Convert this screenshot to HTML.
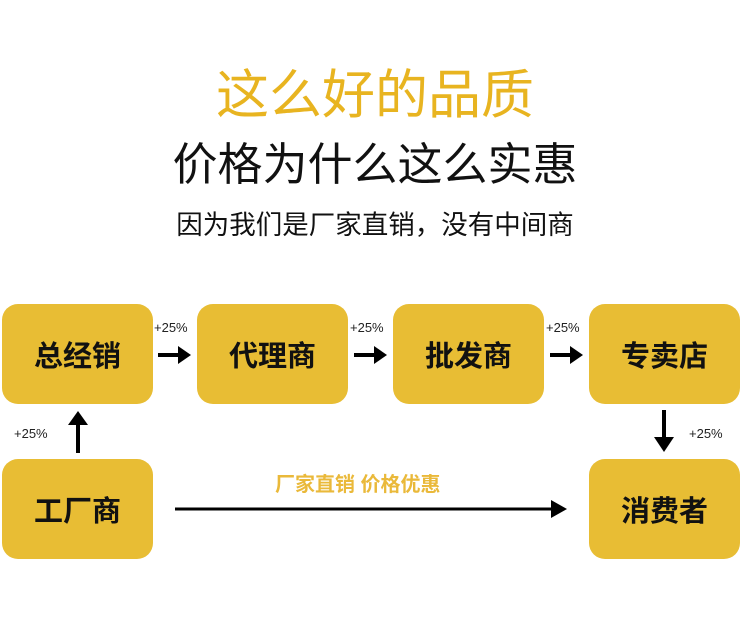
<!DOCTYPE html>
<html><head><meta charset="utf-8"><style>
body{margin:0;width:750px;height:623px;background:#fff;position:relative;overflow:hidden;font-family:"Liberation Sans","Noto Sans CJK SC",sans-serif}
.t{position:absolute;left:0;width:750px;text-align:center;white-space:nowrap}
.b{position:absolute;width:151px;height:100px;background:#e8bd34;border-radius:16px;display:flex;align-items:center;justify-content:center;font-size:29px;font-weight:bold;color:#111}
.p{position:absolute;font-size:13px;color:#222;font-family:"Liberation Sans",sans-serif}
</style></head><body>
<div class="t" style="top:64px;font-size:53px;line-height:64px;color:#e8b420">这么好的品质</div>
<div class="t" style="top:137px;font-size:45px;line-height:56px;color:#111">价格为什么这么实惠</div>
<div class="t" style="top:209px;font-size:26.5px;line-height:32px;color:#111">因为我们是厂家直销，没有中间商</div>

<div class="b" style="left:2px;top:304px">总经销</div>
<div class="b" style="left:197px;top:304px">代理商</div>
<div class="b" style="left:393px;top:304px">批发商</div>
<div class="b" style="left:589px;top:304px">专卖店</div>
<div class="b" style="left:2px;top:459px">工厂商</div>
<div class="b" style="left:589px;top:459px">消费者</div>

<div class="p" style="left:154px;top:320px">+25%</div>
<div class="p" style="left:350px;top:320px">+25%</div>
<div class="p" style="left:546px;top:320px">+25%</div>
<div class="p" style="left:14px;top:426px">+25%</div>
<div class="p" style="left:689px;top:426px">+25%</div>

<div class="t" style="top:472px;left:275px;width:auto;font-size:20px;font-weight:bold;color:#eab93a;line-height:26px">厂家直销 价格优惠</div>

<svg width="750" height="623" style="position:absolute;left:0;top:0">
<g fill="#000" stroke="#000">
<line x1="158" y1="355" x2="180" y2="355" stroke-width="4"/><polygon points="178,346 191,355 178,364" stroke="none"/>
<line x1="354" y1="355" x2="376" y2="355" stroke-width="4"/><polygon points="374,346 387,355 374,364" stroke="none"/>
<line x1="550" y1="355" x2="572" y2="355" stroke-width="4"/><polygon points="570,346 583,355 570,364" stroke="none"/>
<line x1="78" y1="453" x2="78" y2="422" stroke-width="4"/><polygon points="68,425 78,411 88,425" stroke="none"/>
<line x1="664" y1="410" x2="664" y2="440" stroke-width="4"/><polygon points="654,437 664,452 674,437" stroke="none"/>
<line x1="175" y1="509" x2="555" y2="509" stroke-width="3"/><polygon points="551,500 567,509 551,518" stroke="none"/>
</g></svg>
</body></html>
